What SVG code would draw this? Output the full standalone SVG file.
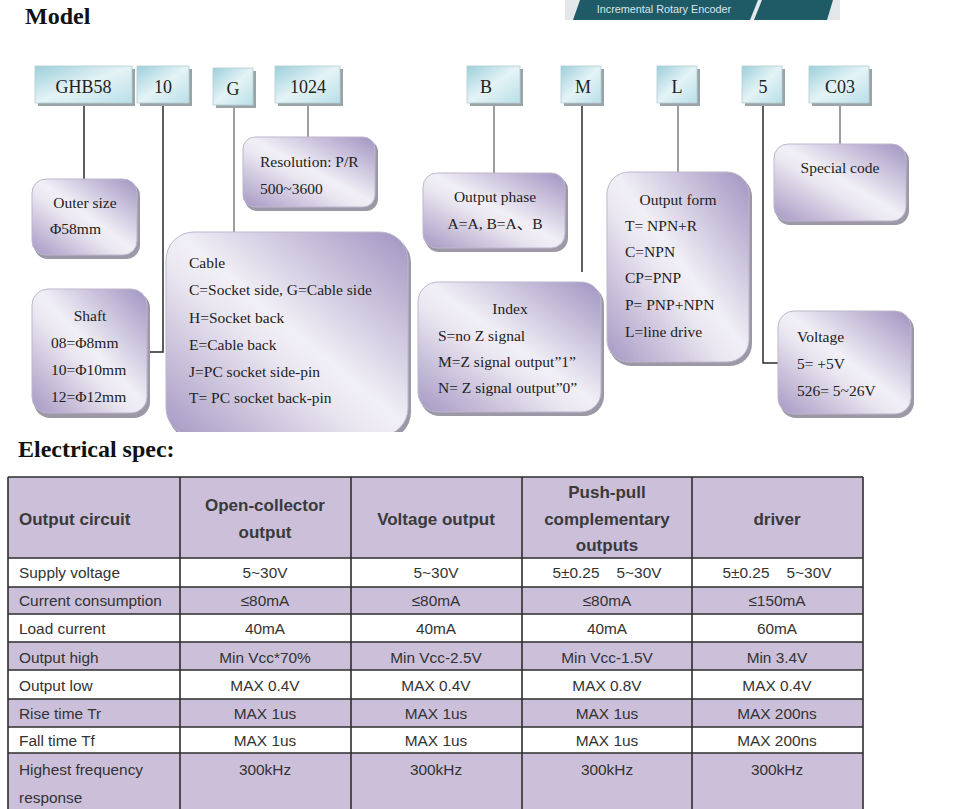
<svg xmlns="http://www.w3.org/2000/svg" width="965" height="809" viewBox="0 0 965 809">
<style>
.ttl{font-family:"Liberation Serif","Times New Roman",serif;font-weight:bold;font-size:24px;fill:#111}
.code{font-family:"Liberation Serif","Times New Roman",serif;font-size:18px;fill:#222;text-anchor:middle}
.pt{font-family:"Liberation Serif","Times New Roman","Noto Sans CJK SC",serif;font-size:15.5px;fill:#222}
.mid{text-anchor:middle}
.tbox{fill:url(#gTeal);stroke:#b5cdd3;stroke-width:0.8}
.tsh{fill:#9aa3a6}
.pbox{fill:url(#gPurp);stroke:#bdb7cc;stroke-width:1}
.psh{fill:#9c98a6}
.cd{fill:none;stroke:#2a2a2a;stroke-width:1.5}
.cg{fill:none;stroke:#7d7d7d;stroke-width:1.5}
.th{font-family:"Liberation Sans",Arial,sans-serif;font-weight:bold;font-size:17px;fill:#3a3a3a}
.td{font-family:"Liberation Sans",Arial,sans-serif;font-size:15.4px;fill:#333}
.c{text-anchor:middle}
.pu{fill:#cbbfda}
.wh{fill:#ffffff}
.gl{stroke:#2e2e2e;stroke-width:1.6;fill:none}
</style>
<defs>
<linearGradient id="gTeal" x1="0" y1="0" x2="1" y2="1">
<stop offset="0" stop-color="#9ccfdb"/>
<stop offset="0.5" stop-color="#e4f3f6"/>
<stop offset="1" stop-color="#b9dfe8"/>
</linearGradient>
<linearGradient id="gPurp" x1="1" y1="0" x2="0" y2="1">
<stop offset="0" stop-color="#a194c1"/>
<stop offset="0.48" stop-color="#f1eff6"/>
<stop offset="0.58" stop-color="#ebe7f1"/>
<stop offset="1" stop-color="#a598c3"/>
</linearGradient>
<clipPath id="cutCable"><rect x="150" y="220" width="280" height="212"/></clipPath>
</defs>
<rect width="965" height="809" fill="#ffffff"/>

<g id="banner">
<rect x="565" y="0" width="275" height="20" fill="#e3e7e9"/>
<polygon points="580,0 758,0 750,20 573,20" fill="#1f5b67"/>
<polygon points="762,0 833,0 827,20 754,20" fill="#1f5b67"/>
<text x="664" y="13" font-family="'Liberation Sans',Arial,sans-serif" font-size="10.8" fill="#d9e6ea" text-anchor="middle">Incremental Rotary Encoder</text>
</g>

<text class="ttl" x="25" y="24">Model</text>
<text class="ttl" x="18" y="457">Electrical spec:</text>

<g id="connectors">
<path class="cd" d="M84 104V179"/>
<path class="cd" d="M163 104V352H148"/>
<path class="cg" d="M234 106V233"/>
<path class="cg" d="M308 104V137"/>
<path class="cg" d="M494 104V173"/>
<path class="cd" d="M582 104V272"/>
<path class="cg" d="M678 104V172"/>
<path class="cd" d="M763 104V363H779"/>
<path class="cg" d="M840 104V144"/>
</g>

<g id="code-GHB58"><rect class="tsh" x="38" y="69" width="97" height="37"/><rect class="tbox" x="35" y="66" width="97" height="37"/><text class="code" x="83.5" y="93">GHB58</text></g>
<g id="code-10"><rect class="tsh" x="140" y="69" width="52" height="37"/><rect class="tbox" x="137" y="66" width="52" height="37"/><text class="code" x="163" y="93">10</text></g>
<g id="code-G"><rect class="tsh" x="216" y="71" width="40" height="37"/><rect class="tbox" x="213" y="68" width="40" height="37"/><text class="code" x="233" y="95">G</text></g>
<g id="code-1024"><rect class="tsh" x="278" y="69" width="65" height="37"/><rect class="tbox" x="275" y="66" width="65" height="37"/><text class="code" x="308" y="93">1024</text></g>
<g id="code-B"><rect class="tsh" x="470" y="69" width="53" height="37"/><rect class="tbox" x="467" y="66" width="53" height="37"/><text class="code" x="486" y="93">B</text></g>
<g id="code-M"><rect class="tsh" x="564" y="69" width="40" height="37"/><rect class="tbox" x="561" y="66" width="40" height="37"/><text class="code" x="583" y="93">M</text></g>
<g id="code-L"><rect class="tsh" x="660" y="69" width="40" height="37"/><rect class="tbox" x="657" y="66" width="40" height="37"/><text class="code" x="677" y="93">L</text></g>
<g id="code-5"><rect class="tsh" x="745" y="69" width="40" height="37"/><rect class="tbox" x="742" y="66" width="40" height="37"/><text class="code" x="763" y="93">5</text></g>
<g id="code-C03"><rect class="tsh" x="812" y="69" width="60" height="37"/><rect class="tbox" x="809" y="66" width="60" height="37"/><text class="code" x="840" y="93">C03</text></g>

<g id="box-outer-size">
<rect class="psh" x="34" y="182" width="106" height="77" rx="14"/>
<rect class="pbox" x="32" y="179" width="105" height="76" rx="14"/>
<text class="pt mid" x="85" y="208">Outer size</text>
<text class="pt" x="50" y="234">Φ58mm</text>
</g>

<g id="box-shaft">
<rect class="psh" x="34" y="292" width="116" height="126" rx="16"/>
<rect class="pbox" x="32" y="289" width="115" height="124" rx="16"/>
<text class="pt mid" x="90" y="321">Shaft</text>
<text class="pt" x="51" y="348">08=Φ8mm</text>
<text class="pt" x="51" y="375">10=Φ10mm</text>
<text class="pt" x="51" y="402">12=Φ12mm</text>
</g>

<g id="box-resolution">
<rect class="psh" x="245" y="140" width="133" height="71" rx="12"/>
<rect class="pbox" x="243" y="137" width="132" height="70" rx="12"/>
<text class="pt" x="260" y="167">Resolution: P/R</text>
<text class="pt" x="260" y="194">500~3600</text>
</g>

<g id="box-cable" clip-path="url(#cutCable)">
<rect class="psh" x="168" y="235" width="243" height="205" rx="28"/>
<rect class="pbox" x="166" y="232" width="242" height="204" rx="28"/>
<text class="pt" x="189" y="268">Cable</text>
<text class="pt" x="189" y="295">C=Socket side, G=Cable side</text>
<text class="pt" x="189" y="323">H=Socket back</text>
<text class="pt" x="189" y="350">E=Cable back</text>
<text class="pt" x="189" y="377">J=PC socket side-pin</text>
<text class="pt" x="189" y="403">T= PC socket back-pin</text>
</g>

<g id="box-output-phase">
<rect class="psh" x="425" y="176" width="143" height="76" rx="14"/>
<rect class="pbox" x="423" y="173" width="142" height="75" rx="14"/>
<text class="pt mid" x="495" y="202">Output phase</text>
<text class="pt mid" x="495" y="229">A=A, B=A、B</text>
</g>

<g id="box-index">
<rect class="psh" x="420" y="285" width="184" height="131" rx="20"/>
<rect class="pbox" x="418" y="282" width="183" height="130" rx="20"/>
<text class="pt mid" x="510" y="314">Index</text>
<text class="pt" x="438" y="341">S=no Z signal</text>
<text class="pt" x="438" y="367">M=Z signal output”1”</text>
<text class="pt" x="438" y="393">N= Z signal output”0”</text>
</g>

<g id="box-output-form">
<rect class="psh" x="609" y="175" width="143" height="191" rx="22"/>
<rect class="pbox" x="607" y="172" width="142" height="190" rx="22"/>
<text class="pt mid" x="678" y="205">Output form</text>
<text class="pt" x="625" y="231">T= NPN+R</text>
<text class="pt" x="625" y="257">C=NPN</text>
<text class="pt" x="625" y="283">CP=PNP</text>
<text class="pt" x="625" y="310">P= PNP+NPN</text>
<text class="pt" x="625" y="337">L=line drive</text>
</g>

<g id="box-special-code">
<rect class="psh" x="776" y="147" width="133" height="78" rx="14"/>
<rect class="pbox" x="774" y="144" width="132" height="77" rx="14"/>
<text class="pt mid" x="840" y="173">Special code</text>
</g>

<g id="box-voltage">
<rect class="psh" x="780" y="314" width="134" height="104" rx="16"/>
<rect class="pbox" x="778" y="311" width="133" height="103" rx="16"/>
<text class="pt" x="797" y="342">Voltage</text>
<text class="pt" x="797" y="369">5= +5V</text>
<text class="pt" x="797" y="396">526= 5~26V</text>
</g>

<g id="spec-table">
<rect class="pu" x="8" y="477" width="855" height="81"/>
<rect class="wh" x="8" y="558" width="855" height="29"/>
<rect class="pu" x="8" y="587" width="855" height="27"/>
<rect class="wh" x="8" y="614" width="855" height="28"/>
<rect class="pu" x="8" y="642" width="855" height="28"/>
<rect class="wh" x="8" y="670" width="855" height="29"/>
<rect class="pu" x="8" y="699" width="855" height="28"/>
<rect class="wh" x="8" y="727" width="855" height="26"/>
<rect class="pu" x="8" y="753" width="855" height="60"/>
<path class="gl" d="M8 477H863M8 558H863M8 587H863M8 614H863M8 642H863M8 670H863M8 699H863M8 727H863M8 753H863M8 477V809M180 477V809M351 477V809M522 477V809M692 477V809M863 477V809"/>

<text class="th" x="19" y="525">Output circuit</text>
<text class="th c" x="265" y="511">Open-collector</text>
<text class="th c" x="265" y="538">output</text>
<text class="th c" x="436" y="525">Voltage output</text>
<text class="th c" x="607" y="498">Push-pull</text>
<text class="th c" x="607" y="525">complementary</text>
<text class="th c" x="607" y="551">outputs</text>
<text class="th c" x="777" y="525">driver</text>

<text class="td" x="19" y="578">Supply voltage</text>
<text class="td c" x="265" y="578">5~30V</text>
<text class="td c" x="436" y="578">5~30V</text>
<text class="td c" x="607" y="578" xml:space="preserve">5±0.25    5~30V</text>
<text class="td c" x="777" y="578" xml:space="preserve">5±0.25    5~30V</text>

<text class="td" x="19" y="606">Current consumption</text>
<text class="td c" x="265" y="606">≤80mA</text>
<text class="td c" x="436" y="606">≤80mA</text>
<text class="td c" x="607" y="606">≤80mA</text>
<text class="td c" x="777" y="606">≤150mA</text>

<text class="td" x="19" y="634">Load current</text>
<text class="td c" x="265" y="634">40mA</text>
<text class="td c" x="436" y="634">40mA</text>
<text class="td c" x="607" y="634">40mA</text>
<text class="td c" x="777" y="634">60mA</text>

<text class="td" x="19" y="663">Output high</text>
<text class="td c" x="265" y="663">Min Vcc*70%</text>
<text class="td c" x="436" y="663">Min Vcc-2.5V</text>
<text class="td c" x="607" y="663">Min Vcc-1.5V</text>
<text class="td c" x="777" y="663">Min 3.4V</text>

<text class="td" x="19" y="691">Output low</text>
<text class="td c" x="265" y="691">MAX 0.4V</text>
<text class="td c" x="436" y="691">MAX 0.4V</text>
<text class="td c" x="607" y="691">MAX 0.8V</text>
<text class="td c" x="777" y="691">MAX 0.4V</text>

<text class="td" x="19" y="719">Rise time Tr</text>
<text class="td c" x="265" y="719">MAX 1us</text>
<text class="td c" x="436" y="719">MAX 1us</text>
<text class="td c" x="607" y="719">MAX 1us</text>
<text class="td c" x="777" y="719">MAX 200ns</text>

<text class="td" x="19" y="746">Fall time Tf</text>
<text class="td c" x="265" y="746">MAX 1us</text>
<text class="td c" x="436" y="746">MAX 1us</text>
<text class="td c" x="607" y="746">MAX 1us</text>
<text class="td c" x="777" y="746">MAX 200ns</text>

<text class="td" x="19" y="775">Highest frequency</text>
<text class="td" x="19" y="803">response</text>
<text class="td c" x="265" y="775">300kHz</text>
<text class="td c" x="436" y="775">300kHz</text>
<text class="td c" x="607" y="775">300kHz</text>
<text class="td c" x="777" y="775">300kHz</text>
</g>
</svg>
